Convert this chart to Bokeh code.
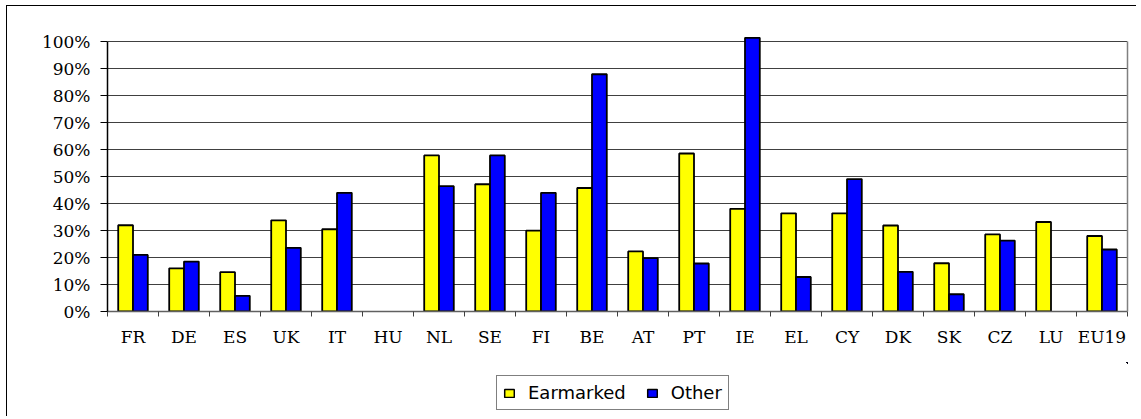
import numpy as np
from bokeh.plotting import figure
from bokeh.models import (ColumnDataSource, Range1d, FixedTicker, LinearAxis,
                          PrintfTickFormatter, Legend, LegendItem, Grid)
from bokeh.layouts import column
from bokeh.transform import dodge
from bokeh.embed import file_html
from bokeh.resources import INLINE

# ---- data ----
countries = ["FR", "DE", "ES", "UK", "IT", "HU", "NL", "SE", "FI", "BE",
             "AT", "PT", "IE", "EL", "CY", "DK", "SK", "CZ", "LU", "EU19"]
earmarked = [32.0, 16.0, 14.6, 33.8, 30.5, np.nan, 57.9, 47.2, 30.0, 45.8,
             22.3, 58.6, 38.1, 36.4, 36.4, 31.9, 17.9, 28.6, 33.2, 28.0]
other = [21.0, 18.5, 5.8, 23.6, 44.0, np.nan, 46.5, 57.9, 44.0, 88.0,
         19.8, 17.8, 101.5, 12.8, 49.1, 14.7, 6.4, 26.3, np.nan, 23.0]
series_names = ["Earmarked", "Other"]
series_fields = ["earmarked", "other"]
series_colors = ["#FFFF00", "#0000FF"]
y_ticks = list(range(0, 101, 10))

n = len(countries)
idx = list(range(n))
src = ColumnDataSource(dict(x=idx, earmarked=earmarked, other=other))

W = 1130
p = figure(width=W, height=357, output_backend="svg", toolbar_location=None,
           x_range=Range1d(-0.5, n - 0.5), y_range=Range1d(0, 102),
           x_axis_type=None, y_axis_type=None,
           min_border_left=100, min_border_right=10, min_border_top=30,
           min_border_bottom=52)
p.styles = {"border-top": "1px solid #000000", "border-left": "1px solid #000000"}
p.outline_line_color = None
p.background_fill_color = "white"
p.border_fill_color = "white"

serif = "DejaVu Serif"

# y axis (left)
yax = LinearAxis(ticker=FixedTicker(ticks=y_ticks),
                 formatter=PrintfTickFormatter(format="%d%%"))
yax.bounds = (0, 100)
yax.axis_line_color = "black"
yax.axis_line_width = 1.5
yax.major_tick_out = 7
yax.major_tick_in = 0
yax.minor_tick_out = 0
yax.minor_tick_in = 0
yax.major_tick_line_color = "black"
yax.major_label_standoff = 10
yax.major_label_text_font = serif
yax.major_label_text_font_size = "17px"
yax.major_label_text_color = "black"
p.add_layout(yax, "left")

# right border as an axis with no ticks
rax = LinearAxis(ticker=FixedTicker(ticks=[]))
rax.bounds = (0, 100)
rax.axis_line_color = "#808080"
rax.axis_line_width = 1.5
rax.major_tick_out = 0
rax.major_tick_in = 0
rax.minor_tick_out = 0
rax.minor_tick_in = 0
rax.major_label_text_font_size = "0px"
rax.major_label_standoff = 0
p.add_layout(rax, "right")

# x axis
xax = LinearAxis(ticker=FixedTicker(ticks=idx, minor_ticks=[i - 0.5 for i in range(n + 1)]))
xax.major_label_overrides = {i: c for i, c in enumerate(countries)}
xax.axis_line_color = "#606060"
xax.axis_line_width = 1.5
xax.major_tick_out = 0
xax.major_tick_in = 0
xax.minor_tick_out = 5
xax.minor_tick_in = 0
xax.minor_tick_line_color = "#404040"
xax.minor_tick_line_width = 1
xax.major_label_standoff = 10
xax.major_label_text_font = serif
xax.major_label_text_font_size = "17px"
xax.major_label_text_color = "black"
p.add_layout(xax, "below")

# grid
g = Grid(dimension=1, ticker=FixedTicker(ticks=y_ticks))
g.grid_line_color = "#404040"
g.grid_line_width = 1
p.add_layout(g)

bw = 0.29
offsets = [-bw / 2, bw / 2]
for field, col, off in zip(series_fields, series_colors, offsets):
    p.vbar(x=dodge("x", off, range=p.x_range), top=field, width=bw,
           source=src, fill_color=col, line_color="black", line_width=1.8)

# ---- legend strip (its renderers sit outside the visible range) ----
p2 = figure(width=W, height=54, output_backend="svg", toolbar_location=None,
            x_range=Range1d(-1000, -999), y_range=Range1d(-1000, -999),
            x_axis_type=None, y_axis_type=None,
            min_border_left=0, min_border_right=0, min_border_top=0,
            min_border_bottom=0)
p2.styles = {"border-left": "1px solid #000000"}
p2.outline_line_color = None
p2.grid.visible = False
p2.background_fill_color = "white"
p2.border_fill_color = "white"

items = []
for name, field, col in zip(series_names, series_fields, series_colors):
    r = p2.vbar(x="x", top=field, width=bw, source=src, fill_color=col,
                line_color="black", line_width=1.5)
    items.append(LegendItem(label=name, renderers=[r]))

legend = Legend(items=items, orientation="horizontal", location=(389, 6))
legend.border_line_color = "black"
legend.border_line_width = 1
legend.background_fill_color = "white"
legend.label_text_font = "DejaVu Sans"
legend.label_text_font_size = "18px"
legend.label_text_color = "black"
legend.glyph_width = 12
legend.glyph_height = 10
legend.padding = 6
legend.spacing = 20
legend.label_standoff = 13
legend.margin = 0
p2.add_layout(legend, "center")

layout = column(p, p2, spacing=0, margin=(5, 0, 0, 6))
open("out.html", "w").write(file_html(layout, INLINE))
